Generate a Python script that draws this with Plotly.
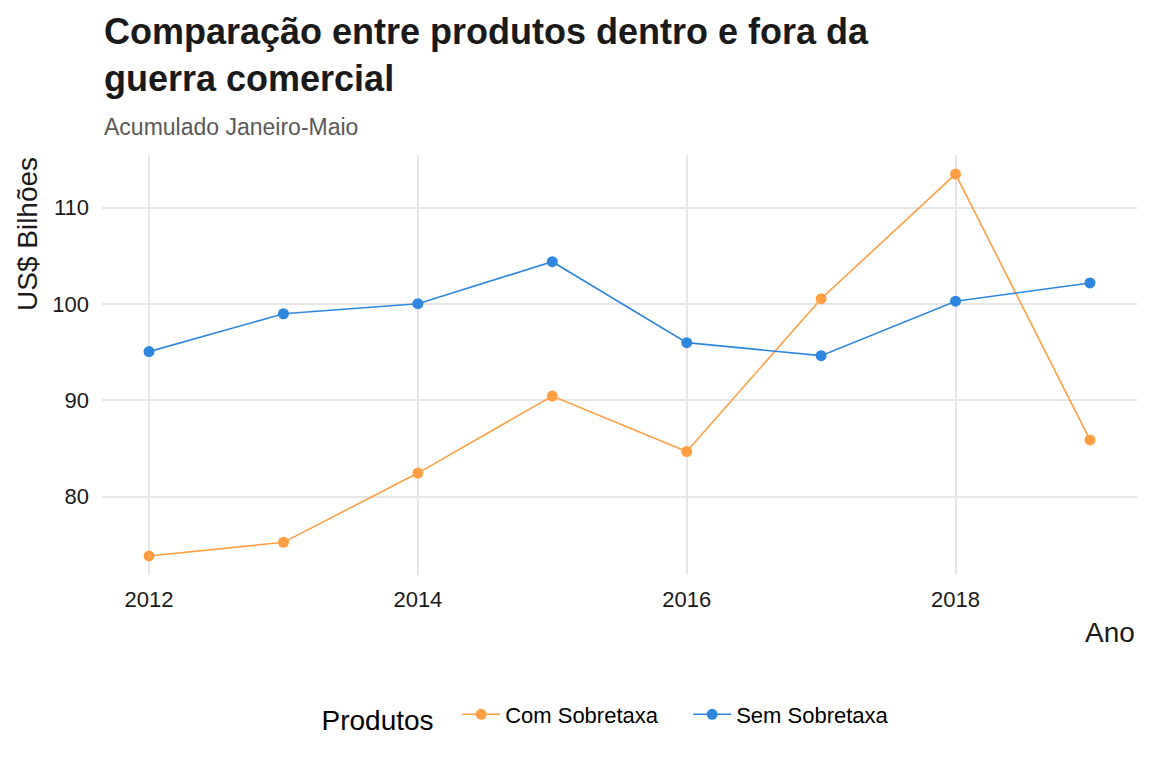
import plotly.graph_objects as go

anos = [2012, 2013, 2014, 2015, 2016, 2017, 2018, 2019]
com_sobretaxa = [73.86, 75.27, 82.46, 90.46, 84.7, 100.56, 113.5, 85.9]
sem_sobretaxa = [95.07, 99.0, 100.04, 104.4, 96.0, 94.65, 100.3, 102.2]
series_names = ["Com Sobretaxa", "Sem Sobretaxa"]
series_colors = ["#FF9F43", "#2E86DE"]
x_ticks = [2012, 2014, 2016, 2018]
y_ticks = [80, 90, 100, 110]

FONT = "Liberation Sans, Arial, sans-serif"

fig = go.Figure()
for name, vals, col in zip(series_names, [com_sobretaxa, sem_sobretaxa], series_colors):
    fig.add_trace(go.Scatter(
        x=anos, y=vals, name=name, mode="lines+markers",
        line=dict(color=col, width=1.6),
        marker=dict(color=col, size=11),
    ))

fig.update_layout(
    width=1152, height=768,
    paper_bgcolor="white", plot_bgcolor="white",
    margin=dict(l=102, r=15, t=155, b=193),
    font=dict(family=FONT, color="#1a1a1a"),
    showlegend=True,
    legend=dict(
        orientation="h", x=0.5, xanchor="center", xref="paper",
        y=-142 / 420, yanchor="middle",
        title=dict(text="Produtos  ", font=dict(size=28, color="#000000")),
        font=dict(size=22, color="#000000"),
        itemwidth=38, entrywidth=178,
    ),
    xaxis=dict(
        range=[2011.65, 2019.35], tickvals=x_ticks, ticktext=[str(v) for v in x_ticks],
        showgrid=True, gridcolor="#E6E6E6", gridwidth=1.5, zeroline=False,
        showline=False, ticks="", tickfont=dict(size=22, color="#1a1a1a"),
        ticklabelstandoff=9,
    ),
    yaxis=dict(
        range=[71.88, 115.48], tickvals=y_ticks, ticktext=[str(v) for v in y_ticks],
        showgrid=True, gridcolor="#E6E6E6", gridwidth=1.5, zeroline=False,
        showline=False, ticks="", tickfont=dict(size=22, color="#1a1a1a"),
        ticklabelstandoff=12,
    ),
    annotations=[
        dict(text="<b>Comparação entre produtos dentro e fora da<br>guerra comercial</b>",
             xref="paper", yref="paper", x=0, y=1, xanchor="left", yanchor="top",
             yshift=146, align="left", showarrow=False,
             font=dict(size=36, color="#1a1a1a")),
        dict(text="Acumulado Janeiro-Maio", xref="paper", yref="paper",
             x=0, y=1, xanchor="left", yanchor="middle", yshift=28,
             showarrow=False, font=dict(size=23, color="#5A5A5A")),
        dict(text="Ano", xref="paper", yref="paper", x=1, y=0,
             xanchor="right", yanchor="middle", yshift=-57,
             showarrow=False, font=dict(size=28, color="#1a1a1a")),
        dict(text="US$ Bilhões", xref="paper", yref="paper", x=0, y=1,
             xanchor="center", yanchor="top", xshift=-75, textangle=-90,
             showarrow=False, font=dict(size=28, color="#1a1a1a")),
    ],
)

fig.write_html("out.html", config={"displayModeBar": False},
               post_script="document.body.style.margin='0';")
